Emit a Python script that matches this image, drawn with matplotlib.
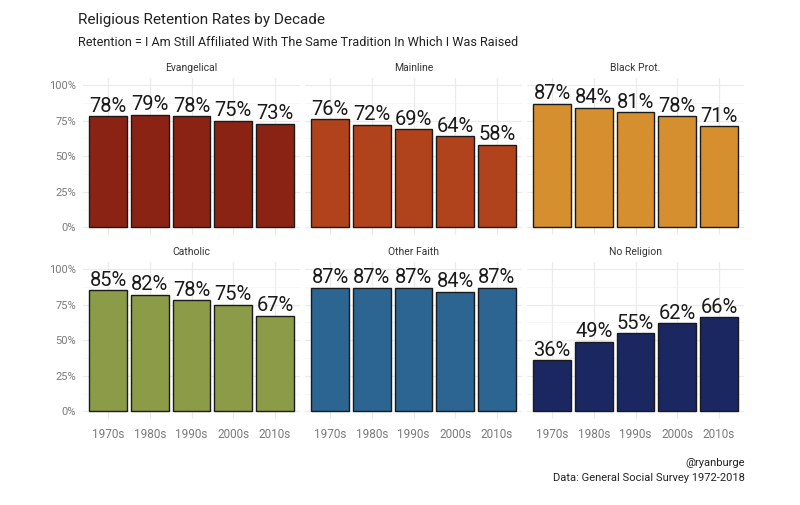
import matplotlib
matplotlib.use("Agg")
import matplotlib.pyplot as plt
from matplotlib.ticker import FixedLocator

plt.rcParams['font.family'] = ['Roboto', 'DejaVu Sans']

decades = ["1970s", "1980s", "1990s", "2000s", "2010s"]
groups = ["Evangelical", "Mainline", "Black Prot.", "Catholic", "Other Faith", "No Religion"]
evangelical = [78, 79, 78, 75, 73]
mainline = [76, 72, 69, 64, 58]
black_prot = [87, 84, 81, 78, 71]
catholic = [85, 82, 78, 75, 67]
other_faith = [87, 87, 87, 84, 87]
no_religion = [36, 49, 55, 62, 66]
series = [evangelical, mainline, black_prot, catholic, other_faith, no_religion]
colors = ["#8A2314", "#B0431B", "#D68F2F", "#8C9B47", "#2C6591", "#1B2761"]
yticks = [0, 25, 50, 75, 100]

W, H = 800, 505
fig = plt.figure(figsize=(8, 5.05), dpi=100)

lefts = [83, 305, 527]
tops = [78, 262]
pw, ph = 217, 156.5

for i, (name, vals, col) in enumerate(zip(groups, series, colors)):
    r, c = divmod(i, 3)
    ax = fig.add_axes([lefts[c] / W, 1 - (tops[r] + ph) / H, pw / W, ph / H])
    x = list(range(1, len(decades) + 1))
    frac = [v / 100 for v in vals]
    ax.bar(x, frac, width=0.9, color=col, edgecolor="#1a1a1a", linewidth=1.0, zorder=3)
    for xi, v in zip(x, vals):
        ax.text(xi, v / 100 + 0.004, f"{v}%", ha="center", va="bottom",
                fontsize=14.5, color="#1a1a1a", zorder=4)
    ax.set_xlim(0.4, 5.6)
    ax.set_ylim(-0.05, 1.05)
    ax.yaxis.set_major_locator(FixedLocator([t / 100 for t in yticks]))
    ax.yaxis.set_minor_locator(FixedLocator([0.125, 0.375, 0.625, 0.875]))
    ax.xaxis.set_major_locator(FixedLocator(x))
    ax.grid(which="major", color="#ebebeb", linewidth=0.9, zorder=0)
    ax.grid(which="minor", axis="y", color="#f3f3f3", linewidth=0.5, zorder=0)
    for s in ax.spines.values():
        s.set_visible(False)
    ax.tick_params(which="both", length=0)
    if c == 0:
        ax.set_yticklabels([f"{t}%" for t in yticks], fontsize=8, color="#7a7a7a")
        ax.tick_params(axis="y", pad=5)
    else:
        ax.set_yticklabels([])
    if r == 1:
        ax.set_xticklabels(decades, fontsize=8.5, color="#7a7a7a")
        ax.tick_params(axis="x", pad=7)
    else:
        ax.set_xticklabels([])
    ax.set_title(name, fontsize=7.5, color="#333333", pad=5)

fig.text(78 / W, 1 - 20 / H, "Religious Retention Rates by Decade", fontsize=11,
         color="#222222", ha="left", va="center")
fig.text(78 / W, 1 - 43 / H,
         "Retention = I Am Still Affiliated With The Same Tradition In Which I Was Raised",
         fontsize=9.1, color="#222222", ha="left", va="center")
fig.text(745 / W, 1 - 463 / H, "@ryanburge", fontsize=8, color="#222222",
         ha="right", va="center")
fig.text(745 / W, 1 - 478 / H, "Data: General Social Survey 1972-2018", fontsize=8,
         color="#222222", ha="right", va="center")

fig.savefig("out.png", dpi=100, facecolor="white")
